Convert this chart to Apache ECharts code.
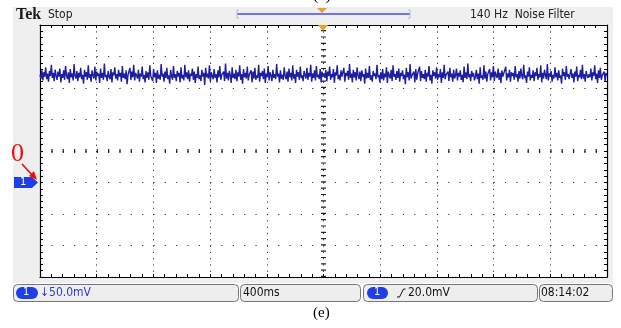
<!DOCTYPE html>
<html>
<head>
<meta charset="utf-8">
<script src="https://cdn.jsdelivr.net/npm/echarts@6/dist/echarts.min.js"></script>
<style>
  html, body { margin: 0; padding: 0; background: #fff; }
  #main { width: 621px; height: 328px; }
</style>
</head>
<body>
<div id="main"></div>
<script>
// screen settings
var voltsPerDiv = 50;     // mV
var timePerDiv = 400;     // ms
var yMin = -150, yMax = 250;
var xMin = 0, xMax = 4000;

// channel 1 trace, mV (ground at 0)
var ch1 = [
  171,165,178,162,175,168,183,164,173,160,177,169,187,166,174,161,179,170,163,176,
  168,181,159,172,166,178,163,185,170,164,175,158,180,167,173,162,188,169,165,177,
  161,174,167,182,164,171,157,179,168,175,163,186,166,172,160,178,170,165,184,162,
  176,169,173,158,181,166,174,163,189,167,171,161,177,168,164,180,159,175,170,183,
  165,172,162,179,168,174,160,185,166,173,164,178,156,171,169,182,163,176,167,187,
  162,174,170,165,179,160,173,168,184,164,171,159,177,166,175,163,186,169,172,161,
  180,167,174,158,178,165,171,163,188,168,173,160,176,166,182,164,170,157,179,169,
  163,185,166,172,161,177,168,174,159,183,165,171,162,187,167,175,164,178,160,173,
  169,181,163,176,158,172,166,184,164,170,161,179,168,174,155,182,167,173,165,186,
  160,175,169,164,180,166,172,159,178,167,185,163,171,168,176,161,189,165,174,162,
  177,170,158,183,166,173,164,179,161,175,168,186,163,172,157,180,167,174,165,184,
  162,171,168,178,159,176,165,182,163,170,166,187,160,174,169,177,164,181,158,173,
  167,185,162,175,170,161,179,166,172,164,188,168,173,159,178,165,171,163,183,169,
  164,176,160,181,167,174,162,186,165,172,158,179,168,175,163,184,166,170,161,177,
  170,165,182,163,174,168,187,160,173,166,178,162,185,167,171,164,180,159,176,168,
  173,166,179,161,176,169,184,163,172,167,180,158,175,170,186,164,171,162,178,168,
  165,182,160,174,169,177,163,188,166,173,159,179,167,175,162,183,170,164,176,161,
  178,168,172,157,181,165,174,166,185,163,170,160,177,169,173,164,187,167,171,159,
  175,164,180,162,173,167,183,158,176,170,165,179,161,186,168,172,163,177,166,181,
  160,174,169,178,164,171,156,182,167,175,162,188,165,170,168,176,159,180,163,173,
  170,184,161,177,166,172,164,179,160,174,168,185,162,171,157,178,169,175,165,183,
  163,172,167,180,158,175,166,187,164,171,169,176,161,182,167,173,160,179,165,170,
  181,162,174,168,178,163,171,159,184,166,175,164,189,167,172,161,177,168,174,162,
  168,179,164,173,157,183,166,170,163,186,165,176,160,172,169,180,162,175,167,185,
  161,176,170,166,181,163,174,158,178,168,171,165,184,162,173,167,179,160,175,169,
  174,163,185,167,172,160,177,165,181,169,164,187,166,170,158,176,168,183,162,171,
  166,178,161,175,169,182,163,172,167,186,159,174,165,179,170,164,188,162,173,168,
  177,160,171,165,183,167,174,162,178,166,170,157,181,169,175,163,185,168,172,164,
  163,180,166,173,159,176,168,184,161,171,167,179,164,187,165,172,160,177,170,166,
  172,167,181,162,175,169,186,164,173,158,178,166,182,163,170,168,176,161,174,169
];

var statusTexts = ['\u219350.0mV', '400ms', '20.0mV', '08:14:02'];
var topTexts = ['Tek', 'Stop', '140 Hz  Noise Filter'];

var pts = ch1.map(function (v, i) {
  return [xMin + i * (xMax - xMin) / (ch1.length - 1), v];
});

var G = { left: 40, top: 25, width: 567, height: 252 };
var divX = G.width / 10, divY = G.height / 8;
var font = '"DejaVu Sans Condensed", "Liberation Sans", sans-serif';

function edgeAxis(extra) {
  var a = {
    type: 'value',
    axisLine: { show: true, onZero: false, lineStyle: { color: '#000', width: 1.2 } },
    axisTick: { show: true, inside: true, length: 3, lineStyle: { color: '#000' } },
    minorTick: { show: true, splitNumber: 5, length: 3, lineStyle: { color: '#000' } },
    axisLabel: { show: false },
    splitLine: { show: false }
  };
  return Object.assign(a, extra);
}

var chart = echarts.init(document.getElementById('main'));
chart.setOption({
  animation: false,
  grid: Object.assign({ show: true, backgroundColor: '#fff', borderWidth: 0 }, G),
  xAxis: [
    edgeAxis({ min: xMin, max: xMax, interval: timePerDiv, position: 'bottom',
      splitLine: { show: true, lineStyle: { color: '#333', width: 1, type: [1.2, divY / 5 - 1.2] } } }),
    edgeAxis({ min: xMin, max: xMax, interval: timePerDiv, position: 'top' })
  ],
  yAxis: [
    edgeAxis({ min: yMin, max: yMax, interval: voltsPerDiv, position: 'left',
      splitLine: { show: true, lineStyle: { color: '#333', width: 1, type: [1.2, divX / 5 - 1.2] } } }),
    edgeAxis({ min: yMin, max: yMax, interval: voltsPerDiv, position: 'right' })
  ],
  series: [{
    type: 'line',
    data: pts,
    showSymbol: false,
    lineStyle: { color: '#1e1ea0', width: 1.4 },
    z: 5,
    markLine: {
      silent: true,
      symbol: 'none',
      label: { show: false },
      z: 3,
      data: [
        { xAxis: (xMin + xMax) / 2, lineStyle: { color: '#222', width: 5, type: [1.2, divY / 5 - 1.2] } },
        { yAxis: (yMin + yMax) / 2, lineStyle: { color: '#222', width: 4, type: [1.2, divX / 5 - 1.2] } }
      ]
    }
  }],
  graphic: [
    { type: 'rect', z: -10, shape: { x: 13, y: 7, width: 600, height: 276 }, style: { fill: '#efefef' } },
    { type: 'text', style: { x: 322, y: -11, text: '(d)', font: '15px "Liberation Serif"', fill: '#000', align: 'center' } },
    { type: 'text', style: { x: 16, y: 7, text: topTexts[0], font: 'bold 16px "Liberation Serif"', fill: '#1a1a1a' } },
    { type: 'text', style: { x: 48, y: 9, text: topTexts[1], font: '12px ' + font, fill: '#222' } },
    { type: 'text', style: { x: 470, y: 9, text: topTexts[2], font: '12px ' + font, fill: '#222' } },
    { type: 'line', shape: { x1: 237, y1: 14, x2: 410, y2: 14 }, style: { stroke: '#4a4ae0', lineWidth: 1.5 } },
    { type: 'polyline', shape: { points: [[239, 10], [237, 10], [237, 18], [239, 18]] }, style: { stroke: '#bbb', lineWidth: 1, fill: null } },
    { type: 'polyline', shape: { points: [[408, 10], [410, 10], [410, 18], [408, 18]] }, style: { stroke: '#bbb', lineWidth: 1, fill: null } },
    { type: 'polygon', shape: { points: [[317, 8], [327, 8], [322, 13]] }, style: { fill: '#f0a020' } },
    { type: 'polygon', shape: { points: [[318, 25], [328, 25], [323, 31]] }, style: { fill: '#f0a020' }, z: 10 },
    // channel marker and annotation
    { type: 'polygon', shape: { points: [[14, 177], [32, 177], [38, 182.5], [32, 188], [14, 188]] }, style: { fill: '#1f3ee8' } },
    { type: 'text', style: { x: 20, y: 177, text: '1', font: '11px ' + font, fill: '#fff' } },
    { type: 'text', style: { x: 11, y: 141, text: '0', font: '26px "Liberation Serif"', fill: '#f01010' } },
    { type: 'line', shape: { x1: 22, y1: 164, x2: 34, y2: 177 }, style: { stroke: '#f01010', lineWidth: 1.8 } },
    { type: 'polygon', shape: { points: [[37, 180], [29, 176], [34, 171]] }, style: { fill: '#f01010' } },
    // status bar
    { type: 'rect', shape: { x: 13.5, y: 284.5, width: 225, height: 17, r: 4 }, style: { fill: '#eeeeee', stroke: '#777', lineWidth: 1 } },
    { type: 'rect', shape: { x: 240.5, y: 284.5, width: 120, height: 17, r: 4 }, style: { fill: '#eeeeee', stroke: '#777', lineWidth: 1 } },
    { type: 'rect', shape: { x: 363.5, y: 284.5, width: 174, height: 17, r: 4 }, style: { fill: '#eeeeee', stroke: '#777', lineWidth: 1 } },
    { type: 'rect', shape: { x: 539.5, y: 284.5, width: 73, height: 17, r: 4 }, style: { fill: '#eeeeee', stroke: '#777', lineWidth: 1 } },
    { type: 'rect', shape: { x: 16, y: 287, width: 22, height: 12, r: 6 }, style: { fill: '#1f3ee8' } },
    { type: 'text', style: { x: 23, y: 287, text: '1', font: '11px ' + font, fill: '#fff' } },
    { type: 'text', style: { x: 40, y: 287, text: statusTexts[0], font: '12px ' + font, fill: '#2a3ad8' } },
    { type: 'text', style: { x: 243, y: 287, text: statusTexts[1], font: '12px ' + font, fill: '#111' } },
    { type: 'rect', shape: { x: 367, y: 287, width: 21, height: 12, r: 6 }, style: { fill: '#1f3ee8' } },
    { type: 'text', style: { x: 374, y: 287, text: '1', font: '11px ' + font, fill: '#fff' } },
    { type: 'polyline', shape: { points: [[397, 297], [399.5, 297], [403.5, 289], [405.5, 289]] }, style: { stroke: '#111', lineWidth: 1, fill: null } },
    { type: 'text', style: { x: 408, y: 287, text: statusTexts[2], font: '12px ' + font, fill: '#111' } },
    { type: 'text', style: { x: 541, y: 287, text: statusTexts[3], font: '12px ' + font, fill: '#111' } },
    { type: 'text', style: { x: 313, y: 306, text: '(e)', font: '15px "Liberation Serif"', fill: '#000' } }
  ]
});
</script>
</body>
</html>
